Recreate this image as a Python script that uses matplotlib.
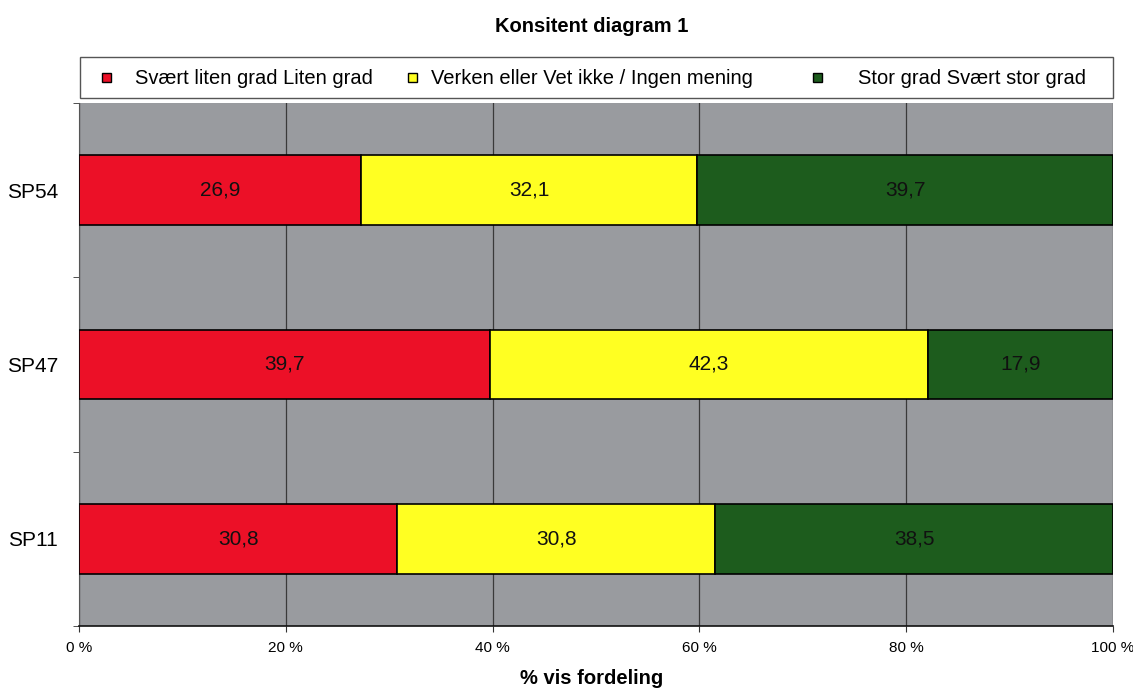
import matplotlib
matplotlib.use("Agg")
import matplotlib.pyplot as plt
from matplotlib.patches import Rectangle
import numpy as np

plt.rcParams["font.family"] = ["Liberation Sans", "DejaVu Sans"]

# Survey answers per question (percent, as reported)
questions = ["SP54", "SP47", "SP11"]
series_names = [
    "Svært liten grad Liten grad",
    "Verken eller Vet ikke / Ingen mening",
    "Stor grad Svært stor grad",
]
low = [26.9, 39.7, 30.8]
neutral = [32.1, 42.3, 30.8]
high = [39.7, 17.9, 38.5]
colors = ["#ec1027", "#ffff22", "#1d5c1d"]
xticks = [0, 20, 40, 60, 80, 100]
xtick_labels = ["0 %", "20 %", "40 %", "60 %", "80 %", "100 %"]

W, H = 1133, 691


def fx(x):
    return x / W


def fy(y):
    return 1 - y / H


values = np.array([low, neutral, high])
totals = values.sum(axis=0)
shares = values / totals * 100  # 100% stacked

fig = plt.figure(figsize=(W / 100, H / 100), dpi=100)
ax = fig.add_axes([fx(79), fy(626), fx(1113 - 79), (626 - 103) / H])
ax.set_facecolor("#999b9f")

ypos = np.arange(len(questions))[::-1]
left = np.zeros(len(questions))
for i in range(len(series_names)):
    ax.barh(ypos, shares[i], left=left, height=0.4, color=colors[i],
            edgecolor="black", linewidth=1.2, zorder=3)
    for y, l, w, v in zip(ypos, left, shares[i], values[i]):
        ax.text(l + w / 2, y, f"{v:.1f}".replace(".", ","), ha="center",
                va="center", fontsize=15, color="#111111", zorder=4)
    left += shares[i]

ax.set_xlim(0, 100)
ax.set_ylim(-0.5, 2.5)
ax.set_xticks(xticks)
ax.set_xticklabels(xtick_labels, fontsize=11)
ax.set_yticks(ypos)
ax.set_yticklabels(questions, fontsize=15)
ax.set_yticks([-0.5, 0.5, 1.5, 2.5], minor=True)
ax.tick_params(axis="y", which="major", length=0, pad=15)
ax.tick_params(axis="y", which="minor", length=4, color="#333333")
ax.tick_params(axis="x", length=4, color="#333333", pad=7)
ax.grid(axis="x", color="#3a3a3a", linewidth=0.9, zorder=1)

for side in ["top", "right"]:
    ax.spines[side].set_visible(False)
ax.spines["left"].set_color("#555555")
ax.spines["bottom"].set_color("#111111")
ax.spines["bottom"].set_linewidth(1.2)

fig.text(fx(592), fy(678), "% vis fordeling", fontsize=14.5, fontweight="bold",
         ha="center", va="center")
fig.text(fx(592), fy(27), "Konsitent diagram 1", fontsize=14.5,
         fontweight="bold", ha="center", va="center")

# legend box drawn by hand to get the spacing of the three entries
fig.patches.append(Rectangle((fx(80), fy(98)), fx(1113 - 80), (98 - 57) / H,
                             transform=fig.transFigure, facecolor="white",
                             edgecolor="#555555", linewidth=1.0))
marker_x = [106, 412, 817]
text_x = [135, 431, 858]
size = 9
for c, name, mx, tx in zip(colors, series_names, marker_x, text_x):
    fig.patches.append(Rectangle((fx(mx - size / 2), fy(77 + size / 2)),
                                 size / W, size / H, transform=fig.transFigure,
                                 facecolor=c, edgecolor="black", linewidth=1.0))
    fig.text(fx(tx), fy(78), name, fontsize=14.5, ha="left", va="center")

fig.savefig("out.png", dpi=100)
